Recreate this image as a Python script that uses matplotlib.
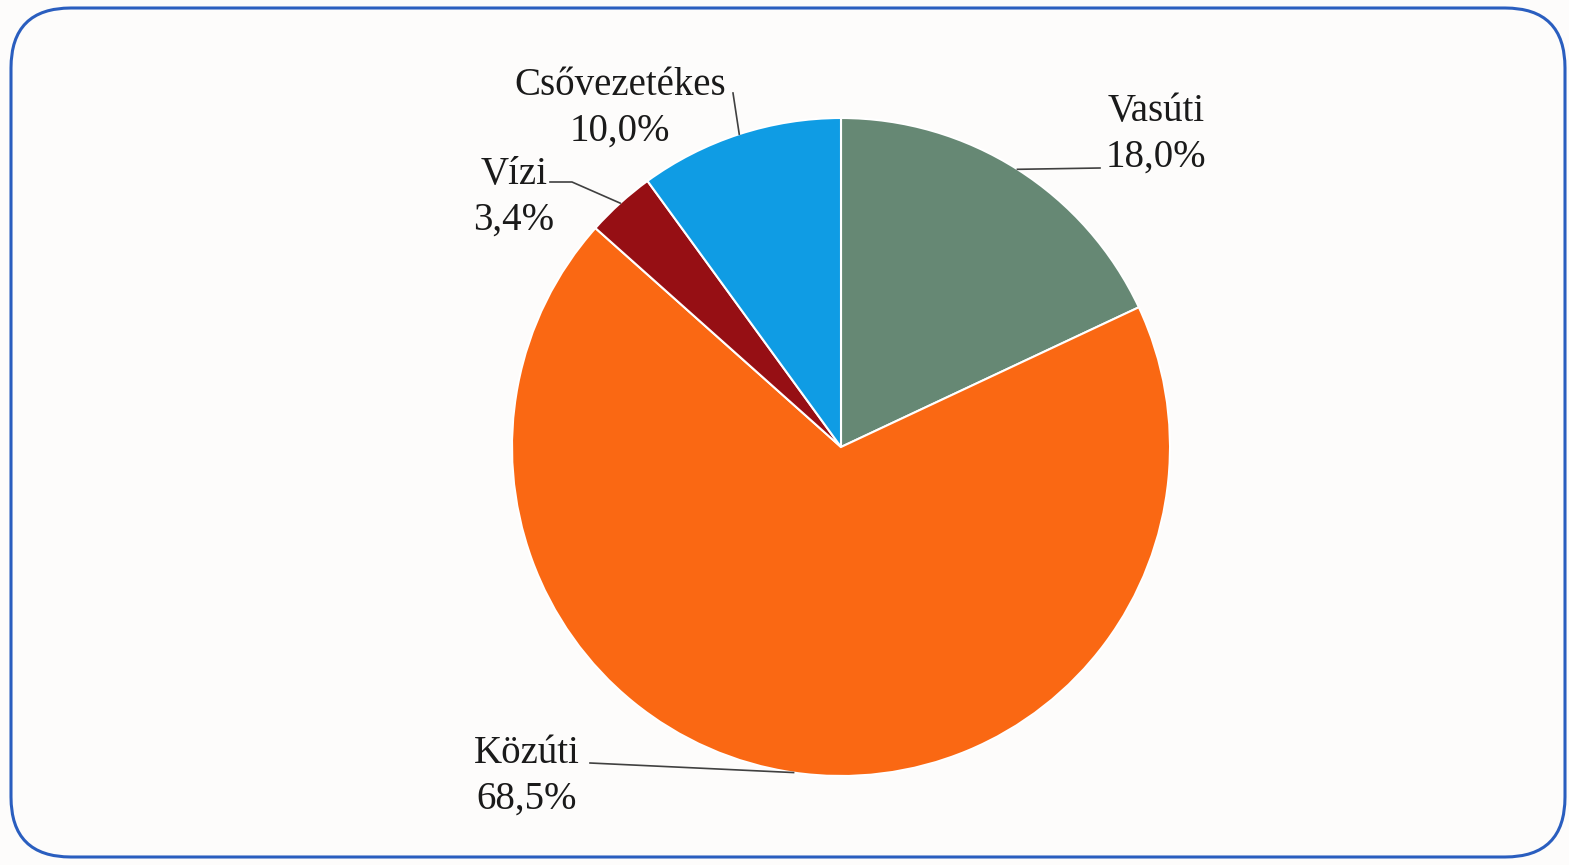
import numpy as np
import matplotlib
matplotlib.use("Agg")
import matplotlib.pyplot as plt
from matplotlib.patches import FancyBboxPatch

# Shares of freight transport modes (%)
categories = ['Vasúti', 'Közúti', 'Vízi', 'Csővezetékes']
shares = [18.0, 68.5, 3.4, 10.0]
colors = ['#668874', '#FA6813', '#960F14', '#0F9CE4']

# label block centres (pixels, y from top) and leader attachment points
label_pos = {'Vasúti': (1156, 134), 'Közúti': (527, 776), 'Vízi': (514, 197), 'Csővezetékes': (620, 108)}
leader_start = {'Vasúti': [(1100, 168)], 'Közúti': [(590, 763)],
                'Vízi': [(550, 182), (572, 182)], 'Csővezetékes': [(733, 93)]}

W, H = 1569, 865
fig = plt.figure(figsize=(W / 100, H / 100), dpi=100, facecolor='#FDFCFB')
ax = fig.add_axes([0, 0, 1, 1])
ax.set_facecolor('#FDFCFB')

cx, cy, r = 841, H - 447, 329
ax.pie(shares, colors=colors, startangle=90, counterclock=False,
       center=(cx, cy), radius=r,
       wedgeprops=dict(edgecolor='white', linewidth=1.5))
ax.set_xlim(0, W)
ax.set_ylim(0, H)
ax.set_aspect('auto')
ax.axis('off')

fmt = lambda v: f'{v:.1f}%'.replace('.', ',')
cum = np.cumsum([0] + shares[:-1])
total = sum(shares)
for name, v, c0 in zip(categories, shares, cum):
    mid = np.deg2rad(90 - (c0 + v / 2) / total * 360)
    px, py = cx + r * np.cos(mid), cy + r * np.sin(mid)
    pts = [(x, H - y) for x, y in leader_start[name]] + [(px, py)]
    ax.plot([p[0] for p in pts], [p[1] for p in pts], color='#404040', lw=1.2)
    lx, ly = label_pos[name]
    ax.text(lx, H - ly, f'{name}\n{fmt(v)}', ha='center', va='center',
            fontsize=28, family='Liberation Serif', color='#1A1A1A',
            linespacing=1.3)

border = FancyBboxPatch((11, 8), 1554, 849, boxstyle='round,pad=0,rounding_size=60',
                        fill=False, edgecolor='#2A5EBF', lw=2.2,
                        transform=ax.transData, clip_on=False)
ax.add_patch(border)

fig.savefig('out.png', dpi=100, facecolor=fig.get_facecolor())
